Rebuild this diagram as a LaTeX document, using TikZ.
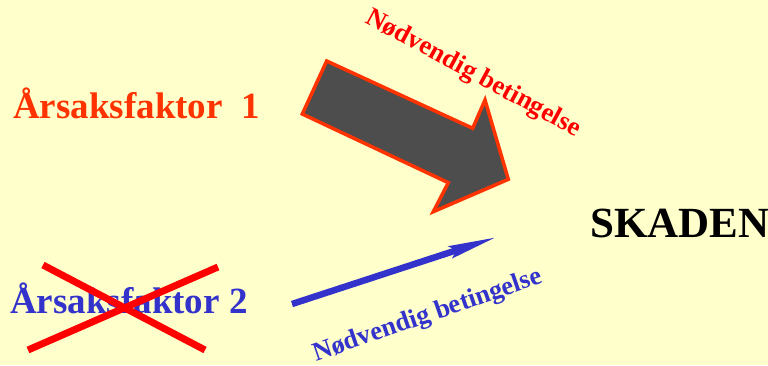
\documentclass[tikz,border=0pt]{standalone}
\usepackage{fontspec}
\setmainfont{Liberation Serif}
\usetikzlibrary{arrows.meta}
\definecolor{bg}{HTML}{FFFFCC}
\definecolor{orangered}{HTML}{FF3300}
\definecolor{myred}{HTML}{FF0000}
\definecolor{myblue}{HTML}{3333CC}
\definecolor{arrowgray}{HTML}{4D4D4D}
\tikzset{
  lbl/.style={font=\bfseries\fontsize{37}{40}\selectfont, inner sep=0pt},
  cond/.style={font=\bfseries\fontsize{26.5}{29}\selectfont, inner sep=0pt},
  cross/.style={myred, line width=7pt},
}
\begin{document}
\begin{tikzpicture}[x=1pt,y=-1pt]
\useasboundingbox (0,0) rectangle (768,365);
\fill[bg] (0,0) rectangle (768,365);
% labels
\node[lbl, text=orangered, anchor=base west] (f1) at (13,118) {Årsaksfaktor~~1};
\node[lbl, text=myblue, anchor=base west] (f2) at (10,313) {Årsaksfaktor 2};
\node[font=\bfseries\fontsize{43}{46}\selectfont, inner sep=0pt, anchor=base west] (sk) at (590,237) {SKADEN};
% big arrow
\draw[orangered, line width=3.5pt, fill=arrowgray, line join=miter]
  (326.7,61) -- (472.7,128.3) -- (485,100) -- (508.3,179.3) -- (433.3,211.7)
  -- (448.3,182.7) -- (302.3,114) -- cycle;
\node[cond, text=myred, rotate=-28.4] (c1) at (473,74) {Nødvendig betingelse};
% blue arrow
\coordinate (b0) at (292,304);
\coordinate (b1) at (497,237);
\draw[myblue, line width=6.5pt, -{Stealth[length=48pt,width=12pt,inset=6pt]}] (b0) -- (b1);
\node[cond, text=myblue, rotate=19.1] (c2) at (428,316) {Nødvendig betingelse};
% cross
\coordinate (x1) at (43,265);
\coordinate (x2) at (205,350);
\coordinate (x3) at (28,350);
\coordinate (x4) at (218,267);
\draw[cross] (x1) -- (x2);
\draw[cross] (x3) -- (x4);
\end{tikzpicture}
\end{document}
